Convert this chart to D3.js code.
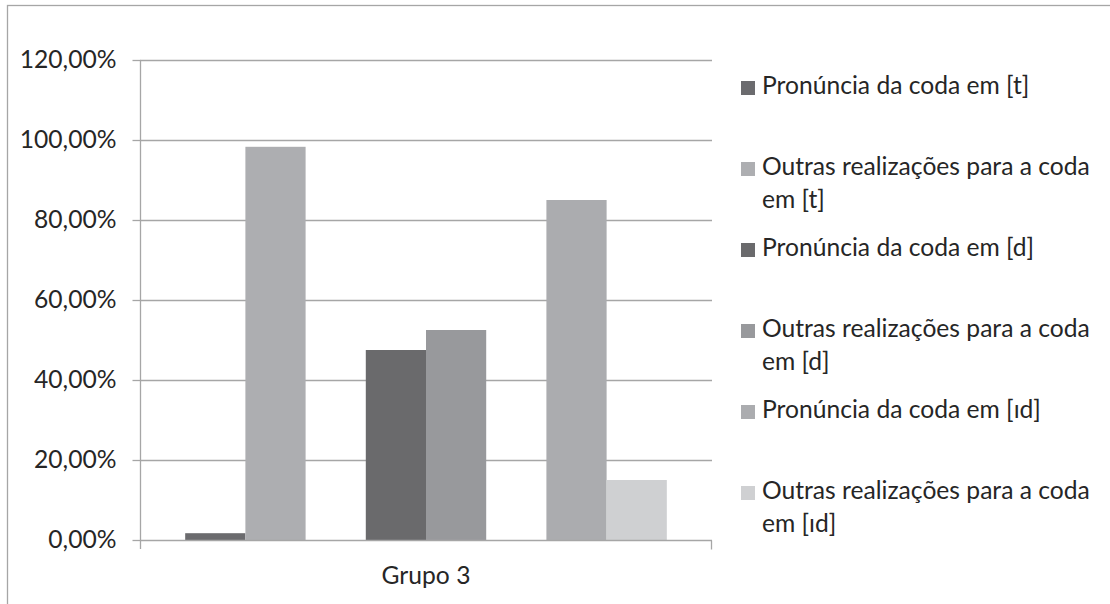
<!DOCTYPE html>
<html>
<head>
<meta charset="utf-8">
<script src="https://cdn.jsdelivr.net/npm/d3@7"></script>
<style>
  html, body { margin: 0; padding: 0; background: #fff; }
  svg { display: block; }
</style>
</head>
<body>
<svg id="chart" width="1110" height="604"></svg>
<script>
// ---- data ----
const categories = ["Grupo 3"];
const seriesNames = [
  "Pronúncia da coda em [t]",
  "Outras realizações para a coda em [t]",
  "Pronúncia da coda em [d]",
  "Outras realizações para a coda em [d]",
  "Pronúncia da coda em [ıd]",
  "Outras realizações para a coda em [ıd]"
];
const seriesValues = [0.017, 0.983, 0.475, 0.525, 0.85, 0.15];
const seriesColors = ["#6b6b6e", "#adaeb1", "#6a6a6c", "#98999c", "#abacaf", "#cfd0d2"];
// empty series slots in the original workbook (blank columns between pairs)
const slotKeys = [seriesNames[0], seriesNames[1], "_blank1", seriesNames[2], seriesNames[3], "_blank2", seriesNames[4], seriesNames[5]];
const yTicks = [0, 0.2, 0.4, 0.6, 0.8, 1.0, 1.2];

// ---- layout ----
const svg = d3.select("#chart");
const plotLeft = 140, plotRight = 712, plotTop = 60, plotBottom = 540;
const fontFamily = "Lato, 'Open Sans', sans-serif";
const textColor = "#262626";
const gridColor = "#a6a6a6";

// fit font size to the reference legend width
const probe = svg.append("text").attr("font-family", fontFamily).attr("font-size", 20)
  .text("Outras realizações para a coda");
const probeLen = probe.node().getComputedTextLength();
probe.remove();
const fs = 20 * 328 / probeLen;

// outer chart border (only top and left visible)
svg.append("rect")
  .attr("x", 7.5).attr("y", 5.5)
  .attr("width", 1200).attr("height", 700)
  .attr("fill", "none").attr("stroke", gridColor).attr("stroke-width", 1.3);

const loc = d3.formatLocale({decimal: ",", thousands: ".", grouping: [3], currency: ["", ""], percent: "%"});
const fmt = loc.format(".2%");

const y = d3.scaleLinear().domain([0, 1.2]).range([plotBottom, plotTop]);
const x0 = d3.scaleBand().domain(categories).range([plotLeft, plotRight])
  .paddingInner(0.158).paddingOuter(0.079);
const x1 = d3.scaleBand().domain(slotKeys).range([0, x0.bandwidth()]).padding(0);

// gridlines
svg.append("g").selectAll("line").data(yTicks.filter(d => d > 0)).join("line")
  .attr("x1", plotLeft).attr("x2", plotRight)
  .attr("y1", d => Math.round(y(d)) + 0.5).attr("y2", d => Math.round(y(d)) + 0.5)
  .attr("stroke", gridColor).attr("stroke-width", 1.3);

// bars
const g = svg.append("g").attr("transform", `translate(${x0(categories[0])},0)`);
g.selectAll("rect").data(seriesNames.map((n, i) => ({name: n, value: seriesValues[i], color: seriesColors[i]})))
  .join("rect")
  .attr("x", d => x1(d.name))
  .attr("width", x1.bandwidth())
  .attr("y", d => y(d.value))
  .attr("height", d => y(0) - y(d.value))
  .attr("fill", d => d.color);

// y axis
const yAxis = d3.axisLeft(y).tickValues(yTicks).tickFormat(fmt).tickSize(8).tickPadding(16);
const ya = svg.append("g").attr("transform", `translate(${plotLeft + 0.5},0)`).call(yAxis);
ya.select(".domain").remove();
ya.append("line").attr("x1", 0).attr("x2", 0).attr("y1", plotTop).attr("y2", plotBottom + 9)
  .attr("stroke", gridColor).attr("stroke-width", 1.3);
ya.selectAll(".tick line").attr("stroke", gridColor).attr("stroke-width", 1.3);
ya.selectAll(".tick text").attr("font-family", fontFamily).attr("font-size", fs)
  .attr("fill", textColor);

// x axis
const xAxis = d3.axisBottom(x0).tickSize(0).tickPadding(0);
const xa = svg.append("g").attr("transform", `translate(0,${plotBottom + 0.5})`).call(xAxis);
xa.select(".domain").remove();
xa.append("line").attr("x1", plotLeft).attr("x2", plotRight).attr("y1", 0).attr("y2", 0)
  .attr("stroke", gridColor).attr("stroke-width", 1.3);
xa.append("line").attr("x1", plotRight - 0.5).attr("x2", plotRight - 0.5).attr("y1", 0).attr("y2", 9)
  .attr("stroke", gridColor).attr("stroke-width", 1.3);
xa.selectAll(".tick text").attr("font-family", fontFamily).attr("font-size", fs)
  .attr("fill", textColor).attr("dy", null).attr("y", 37).attr("dominant-baseline", "middle");

// legend
const legend = svg.append("g");
const maxW = 340;
seriesNames.forEach((name, i) => {
  const cy = 88 + i * 81;
  legend.append("rect").attr("x", 741).attr("y", cy - 7).attr("width", 14).attr("height", 14)
    .attr("fill", seriesColors[i]);
  const t = legend.append("text").attr("font-family", fontFamily).attr("font-size", fs)
    .attr("fill", textColor);
  // simple word wrap
  const words = name.split(" ");
  let lines = [], cur = "";
  const meas = svg.append("text").attr("font-family", fontFamily).attr("font-size", fs);
  words.forEach(w => {
    const test = cur ? cur + " " + w : w;
    meas.text(test);
    if (meas.node().getComputedTextLength() > maxW && cur) { lines.push(cur); cur = w; }
    else cur = test;
  });
  lines.push(cur);
  meas.remove();
  lines.forEach((ln, j) => {
    t.append("tspan").attr("x", 762).attr("y", cy + j * 33).attr("dominant-baseline", "middle").text(ln);
  });
});
</script>
</body>
</html>
